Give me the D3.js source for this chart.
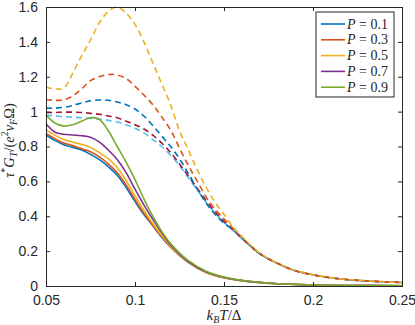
<!DOCTYPE html>
<html>
<head>
<meta charset="utf-8">
<style>
  body { margin: 0; background: #fff; }
  svg { display: block; }
  .tick text { font-family: "Liberation Sans", Arial, sans-serif; font-size: 14px; fill: #262626; }
  .mathlbl { font-family: "Liberation Serif", "DejaVu Serif", serif; fill: #262626; }
</style>
</head>
<body>
<svg id="chart"></svg>
<script src="https://cdn.jsdelivr.net/npm/d3@7"></script>
<script>
// x values (k_B T / Delta)
const xSolid = [0.05, 0.055, 0.06, 0.065, 0.07, 0.075, 0.08, 0.085, 0.09, 0.095, 0.1, 0.105, 0.11, 0.115, 0.12, 0.13, 0.14, 0.15, 0.16, 0.18, 0.2, 0.22, 0.25];
const xDashed = [0.05, 0.055, 0.06, 0.065, 0.07, 0.075, 0.08, 0.085, 0.09, 0.095, 0.1, 0.105, 0.11, 0.115, 0.12, 0.125, 0.13, 0.135, 0.14, 0.145, 0.15, 0.155, 0.16, 0.17, 0.18, 0.19, 0.2, 0.21, 0.22, 0.23, 0.24, 0.25];

// solid curves, one per P
const solidP01 = [0.866, 0.835, 0.81, 0.795, 0.78, 0.755, 0.725, 0.685, 0.635, 0.565, 0.485, 0.41, 0.345, 0.28, 0.222, 0.135, 0.078, 0.048, 0.031, 0.013, 0.006, 0.003, 0.001];
const solidP03 = [0.875, 0.845, 0.82, 0.805, 0.787, 0.77, 0.74, 0.70, 0.65, 0.58, 0.495, 0.417, 0.348, 0.283, 0.224, 0.136, 0.078, 0.048, 0.031, 0.013, 0.006, 0.003, 0.001];
const solidP05 = [0.895, 0.865, 0.84, 0.825, 0.812, 0.795, 0.765, 0.73, 0.68, 0.605, 0.517, 0.435, 0.358, 0.29, 0.227, 0.137, 0.079, 0.049, 0.031, 0.013, 0.006, 0.003, 0.001];
const solidP07 = [0.93, 0.882, 0.87, 0.866, 0.862, 0.853, 0.825, 0.78, 0.725, 0.65, 0.555, 0.465, 0.382, 0.305, 0.235, 0.14, 0.081, 0.05, 0.032, 0.013, 0.006, 0.003, 0.001];
const solidP09 = [0.98, 0.935, 0.917, 0.925, 0.945, 0.965, 0.955, 0.89, 0.80, 0.71, 0.61, 0.50, 0.40, 0.313, 0.243, 0.145, 0.085, 0.052, 0.033, 0.013, 0.006, 0.003, 0.002];

// dashed curves (not in legend)
const dashedYellow = [1.14, 1.13, 1.135, 1.22, 1.32, 1.41, 1.51, 1.575, 1.60, 1.565, 1.50, 1.40, 1.28, 1.16, 1.04, 0.89, 0.78, 0.665, 0.565, 0.48, 0.41, 0.34, 0.285, 0.19, 0.132, 0.09, 0.065, 0.048, 0.037, 0.03, 0.024, 0.02];
const dashedOrange = [1.07, 1.065, 1.067, 1.09, 1.13, 1.178, 1.20, 1.213, 1.21, 1.19, 1.145, 1.095, 1.04, 0.97, 0.895, 0.79, 0.69, 0.60, 0.51, 0.44, 0.385, 0.33, 0.28, 0.188, 0.13, 0.088, 0.064, 0.047, 0.036, 0.029, 0.024, 0.02];
const dashedBlue = [1.02, 1.02, 1.025, 1.035, 1.05, 1.062, 1.067, 1.065, 1.055, 1.04, 1.015, 0.975, 0.92, 0.86, 0.80, 0.73, 0.645, 0.555, 0.475, 0.41, 0.36, 0.322, 0.275, 0.186, 0.13, 0.088, 0.064, 0.047, 0.036, 0.029, 0.024, 0.02];
const dashedRed = [0.995, 0.995, 0.997, 0.997, 0.995, 0.99, 0.985, 0.975, 0.965, 0.945, 0.925, 0.9, 0.865, 0.82, 0.765, 0.70, 0.63, 0.56, 0.49, 0.425, 0.37, 0.322, 0.275, 0.186, 0.13, 0.088, 0.064, 0.047, 0.036, 0.029, 0.024, 0.02];
const dashedCyan = [0.98, 0.975, 0.97, 0.968, 0.965, 0.962, 0.958, 0.95, 0.94, 0.925, 0.905, 0.878, 0.84, 0.80, 0.75, 0.69, 0.62, 0.55, 0.48, 0.42, 0.365, 0.32, 0.273, 0.185, 0.13, 0.088, 0.064, 0.047, 0.036, 0.029, 0.024, 0.02];

const legendP = ["0.1", "0.3", "0.5", "0.7", "0.9"];
const xTicks = [0.05, 0.1, 0.15, 0.2, 0.25];
const yTicks = [0, 0.2, 0.4, 0.6, 0.8, 1, 1.2, 1.4, 1.6];

const W = 415, H = 325;
const margin = {top: 7, right: 13, bottom: 39, left: 46};
const width = W - margin.left - margin.right,
      height = H - margin.top - margin.bottom;

const svg = d3.select('#chart').attr('width', W).attr('height', H);
const chart = svg.append('g').attr('transform', `translate(${margin.left},${margin.top})`);

const x = d3.scaleLinear().domain([0.05, 0.25]).range([0, width]);
const y = d3.scaleLinear().domain([0, 1.6]).range([height, 0]);

const axisColor = '#262626';

const line = (xs) => d3.line()
  .x((d, i) => x(xs[i]))
  .y(d => y(d))
  .curve(d3.curveCatmullRom.alpha(0.5));

const solids = [
  {v: solidP01, c: '#0072BD'},
  {v: solidP03, c: '#D95319'},
  {v: solidP05, c: '#EDB120'},
  {v: solidP07, c: '#7E2F8E'},
  {v: solidP09, c: '#77AC30'}
];
const dashes = [
  {v: dashedCyan, c: '#4DBEEE'},
  {v: dashedRed, c: '#A2142F'},
  {v: dashedBlue, c: '#0072BD'},
  {v: dashedOrange, c: '#D95319'},
  {v: dashedYellow, c: '#EDB120'}
];

chart.selectAll('.dash')
  .data(dashes)
  .enter().append('path')
  .attr('class', 'dash')
  .attr('d', d => line(xDashed)(d.v))
  .attr('fill', 'none')
  .attr('stroke', d => d.c)
  .attr('stroke-width', 1.6)
  .attr('stroke-dasharray', '6,4');

chart.selectAll('.solid')
  .data(solids)
  .enter().append('path')
  .attr('class', 'solid')
  .attr('d', d => line(xSolid)(d.v))
  .attr('fill', 'none')
  .attr('stroke', d => d.c)
  .attr('stroke-width', 1.6);

// axes, ticks pointing inward, box on
const xAxis = chart.append('g')
  .attr('transform', `translate(0,${height})`)
  .call(d3.axisBottom(x).tickValues(xTicks).tickSize(-4).tickPadding(9).tickFormat(d3.format('')));
const xTop = chart.append('g')
  .call(d3.axisTop(x).tickValues(xTicks).tickSize(-4).tickFormat(''));
const yAxis = chart.append('g')
  .call(d3.axisLeft(y).tickValues(yTicks).tickSize(-4).tickPadding(9).tickFormat(d3.format('')));
const yRight = chart.append('g')
  .attr('transform', `translate(${width},0)`)
  .call(d3.axisRight(y).tickValues(yTicks).tickSize(-4).tickFormat(''));

[xAxis, xTop, yAxis, yRight].forEach(g => {
  g.select('.domain').attr('stroke', axisColor).attr('stroke-width', 1);
  g.selectAll('.tick line').attr('stroke', axisColor);
});
yAxis.selectAll('.tick text').attr('dx', '1');

// x label
const xl = svg.append('text')
  .attr('class', 'mathlbl')
  .attr('x', margin.left + width / 2)
  .attr('y', 320)
  .attr('text-anchor', 'middle')
  .style('font-size', '15px');
xl.append('tspan').attr('font-style', 'italic').text('k');
xl.append('tspan').attr('font-style', 'italic').attr('font-size', '10px').attr('dy', 3).text('B');
xl.append('tspan').attr('font-style', 'italic').attr('dy', -3).text('T');
xl.append('tspan').text('/Δ');

// y label
const yl = svg.append('text')
  .attr('class', 'mathlbl')
  .attr('transform', `translate(14,${margin.top + height / 2 - 6}) rotate(-90)`)
  .attr('text-anchor', 'middle')
  .style('font-size', '14.5px');
yl.append('tspan').attr('font-style', 'italic').text('τ');
yl.append('tspan').attr('font-size', '10px').attr('dy', -6).text('*');
yl.append('tspan').attr('font-style', 'italic').attr('dy', 6).text('G');
yl.append('tspan').attr('font-style', 'italic').attr('font-size', '10px').attr('dy', 2.5).text('T');
yl.append('tspan').attr('dy', -2.5).text('/(');
yl.append('tspan').attr('font-style', 'italic').text('e');
yl.append('tspan').attr('font-size', '10px').attr('dy', -6).text('2');
yl.append('tspan').attr('font-style', 'italic').attr('dy', 6).text('ν');
yl.append('tspan').attr('font-style', 'italic').attr('font-size', '10px').attr('dy', 2.5).text('F');
yl.append('tspan').attr('dy', -2.5).text('Ω)');

// legend
const lg = chart.append('g').attr('transform', `translate(${316 - margin.left},${12 - margin.top})`);
lg.append('rect')
  .attr('width', 78).attr('height', 85)
  .attr('fill', '#fff')
  .attr('stroke', axisColor)
  .attr('stroke-width', 1);
const items = lg.selectAll('.item')
  .data(legendP)
  .enter().append('g')
  .attr('transform', (d, i) => `translate(0,${12 + i * 15.8})`);
items.append('line')
  .attr('x1', 5).attr('x2', 29)
  .attr('stroke', (d, i) => solids[i].c)
  .attr('stroke-width', 1.6);
const lt = items.append('text')
  .attr('class', 'mathlbl')
  .attr('x', 31)
  .attr('y', 4.5)
  .style('font-size', '14px');
lt.append('tspan').attr('font-style', 'italic').text('P');
lt.append('tspan').text(d => ' = ' + d);
</script>
</body>
</html>
